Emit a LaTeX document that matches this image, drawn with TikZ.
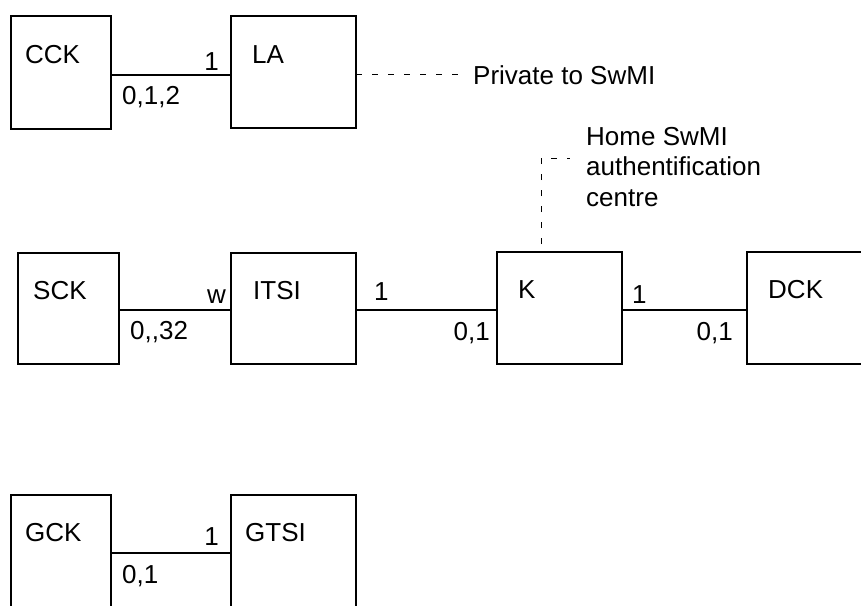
\documentclass[tikz,border=0pt]{standalone}
\usepackage{fontspec}
\setmainfont{Liberation Sans}[Ligatures=NoCommon]
\begin{document}
\begin{tikzpicture}[x=1pt,y=-1pt,
 box/.style={draw, line width=2.9pt, rectangle, inner sep=0pt, outer sep=0pt, anchor=north west},
 conn/.style={line width=1.1pt},
 lead/.style={line width=0.9pt, dash pattern=on 6pt off 10pt},
 txt/.style={inner sep=0pt, anchor=base west, font=\fontsize{26}{30.5}\selectfont},
 rtxt/.style={txt, anchor=base east}]
\clip (0,0) rectangle (861,605);
% boxes
\node[box, minimum width=100pt, minimum height=113pt] (cck) at (11,16) {};
\node[box, minimum width=125pt, minimum height=112pt] (la) at (231,16) {};
\node[box, minimum width=101pt, minimum height=111pt] (sck) at (18,253) {};
\node[box, minimum width=125pt, minimum height=111pt] (itsi) at (231,253) {};
\node[box, minimum width=125pt, minimum height=112pt] (k) at (497,252) {};
\node[box, minimum width=160pt, minimum height=112pt] (dck) at (747,252) {};
\node[box, minimum width=100pt, minimum height=150pt] (gck) at (11,495) {};
\node[box, minimum width=125pt, minimum height=150pt] (gtsi) at (231,495) {};
% box titles
\node[txt] (tcck) at (25,63) {CCK};
\node[txt] (tla) at (252,63) {LA};
\node[txt] (tsck) at (33,299) {SCK};
\node[txt] (titsi) at (253,299) {ITSI};
\node[txt] (tk) at (518,298) {K};
\node[txt] (tdck) at (768,298) {DCK};
\node[txt] (tgck) at (25,541) {GCK};
\node[txt] (tgtsi) at (245,541) {GTSI};
% connectors
\coordinate (c1) at ([yshift=-59pt]cck.north east);
\draw[conn] (c1) -- (c1 -| la.west);
\coordinate (c2) at ([yshift=-57pt]sck.north east);
\draw[conn] (c2) -- (c2 -| itsi.west);
\coordinate (c3) at ([yshift=-57pt]itsi.north east);
\draw[conn] (c3) -- (c3 -| k.west);
\coordinate (c4) at ([yshift=-58pt]k.north east);
\draw[conn] (c4) -- (c4 -| dck.west);
\coordinate (c5) at ([yshift=-58pt]gck.north east);
\draw[conn] (c5) -- (c5 -| gtsi.west);
% multiplicities
\node[rtxt] (m1) at (219,70) {1};
\node[txt] (m2) at (122,104) {0,1,2};
\node[rtxt] (m3) at (226,303) {w};
\node[txt] (m4) at (130,339) {0,{},32};
\node[txt] (m5) at (374,300) {1};
\node[rtxt] (m6) at (490,340) {0,1};
\node[txt] (m7) at (632,303) {1};
\node[rtxt] (m8) at (733,340) {0,1};
\node[rtxt] (m9) at (219,545) {1};
\node[txt] (m10) at (122,583) {0,1};
% notes
\node[txt] (priv) at (473,84) {Private to SwMI};
\coordinate (p1) at ([yshift=-58pt]la.north east);
\draw[lead, shorten >=15pt] (p1) -- (p1 -| priv.west);
\node[txt, anchor=north west, align=left] (home) at (586,127) {Home SwMI\\authentification\\centre};
\coordinate (hk) at (541,158);
\draw[lead, shorten >=16pt] ([xshift=44pt,yshift=8pt]k.north west) -- (hk) -- (hk -| home.west);
\end{tikzpicture}
\end{document}
